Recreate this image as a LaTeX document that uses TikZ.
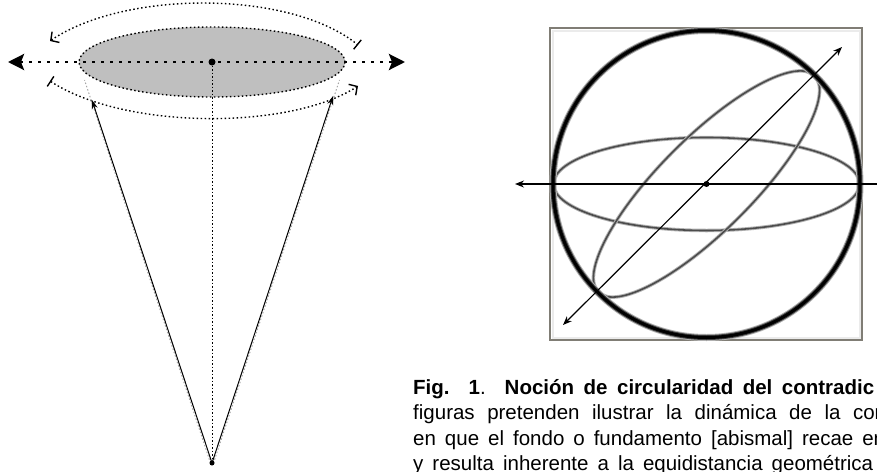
\documentclass[tikz,border=0pt]{standalone}
\usepackage{fontspec}
\newfontfamily\capfont{Liberation Sans}
\usetikzlibrary{arrows.meta}
\definecolor{boxgray}{RGB}{128,125,117}
\begin{document}
\begin{tikzpicture}[x=1pt,y=-1pt,
  bigdot/.style={line width=2.8pt, dash pattern=on 3pt off 6pt},
  smalldot/.style={line width=1.4pt, dash pattern=on 1.5pt off 2.5pt},
  thindot/.style={line width=1pt, dash pattern=on 1.5pt off 2pt},
  capt/.style={inner sep=0pt, font=\capfont\fontsize{20.5}{25.5}\selectfont, anchor=base west},
  bighead/.tip={Stealth[length=16pt,width=16pt,inset=3pt]},
  smallhead/.tip={Stealth[length=9pt,width=7pt]},
  barb/.tip={Straight Barb[length=6pt,width=13pt]},
  tick/.tip={Bar[width=12pt]},
]
\useasboundingbox (0,0) rectangle (877,471);
\clip (0,0) rectangle (877,471);

% ---------- left figure ----------
\coordinate (C) at (212,62);
\coordinate (A) at (212,463);
\coordinate (HL) at (8,62);
\coordinate (HR) at (405,62);
\coordinate (TL) at (50,41);
\coordinate (TR) at (358,45);
\coordinate (BL) at (50,81);
\coordinate (BR) at (358,86);
\coordinate (PL) at (92,100);
\coordinate (PR) at (333,96);
\coordinate (SL) at (86,80);
\coordinate (SR) at (338,80);

% shadow of the disc
\foreach \i in {1,...,8}
  \fill[black, opacity=0.035, shift={(0.4*\i,0.9*\i)}] (C) ellipse [x radius=133pt, y radius=35pt];
% disc
\draw[smalldot, fill=black!25] (C) ellipse [x radius=133pt, y radius=35pt];

% arcs
\draw[smalldot, barb-tick] (TL) .. controls (125,-10) and (290,-10) .. (TR);
\draw[smalldot, tick-barb] (BL) .. controls (125,130) and (290,130) .. (BR);

% horizontal axis
\draw[bigdot, bighead-bighead] (HL) -- (HR);

% vertical axis
\draw[thindot] (C) -- (A);

% cone
\draw[gray!70, thindot] ([xshift=-1.5pt]A) -- ([xshift=-1.5pt]SL);
\draw[gray!70, thindot] ([xshift=1.5pt]A) -- ([xshift=1.5pt]SR);
\draw[line width=1pt, -{Stealth[length=9pt,width=6pt]}] (A) -- (PL);
\draw[line width=1pt, -{Stealth[length=9pt,width=6pt]}] (A) -- (PR);
\fill (A) circle (2.5pt);
\fill (C) circle (3.5pt);

% ---------- right figure ----------
\coordinate (O) at (706.5,184);
\coordinate (XR) at (890,184);
\coordinate (XL) at (515,184);
\coordinate (D1) at (563,325);
\coordinate (D2) at (842,47);

\draw[black!8, line width=2pt] (552.5,30.5) rectangle (859.5,337.5);
\draw[boxgray, line width=1.5pt] (550,28) rectangle (862,340);

\foreach \a in {0,45} {
  \draw[black!30, line width=3.5pt, rotate around={\a:(O)}] (O) ellipse [x radius=153pt, y radius=46.5pt];
  \draw[black!70, line width=1.6pt, rotate around={\a:(O)}] (O) ellipse [x radius=153pt, y radius=46.5pt];
}
\draw[black!30, line width=7pt] (O) circle (153.5pt);
\draw[black!75, line width=5pt] (O) circle (153.5pt);
\draw[black, line width=3pt] (O) circle (153.5pt);

\draw[line width=1.3pt, -smallhead] (XR) -- (XL);
\draw[line width=1.2pt, smallhead-smallhead] (D1) -- (D2);
\fill (O) circle (3pt);

% ---------- caption ----------
\node[capt] (cap1) at (413,394) {\makebox[461pt][s]{\bfseries Fig. 1\mdseries. \bfseries Noción de circularidad del contradic}};
\node[capt] (cap2) at (413,419.5) {\makebox[473pt][s]{figuras pretenden ilustrar la dinámica de la con}};
\node[capt] (cap3) at (413,445) {\makebox[472pt][s]{en que el fondo o fundamento [abismal] recae en}};
\node[capt] (cap4) at (413,470.5) {\makebox[460pt][s]{y resulta inherente a la equidistancia geométrica}};
\end{tikzpicture}
\end{document}
